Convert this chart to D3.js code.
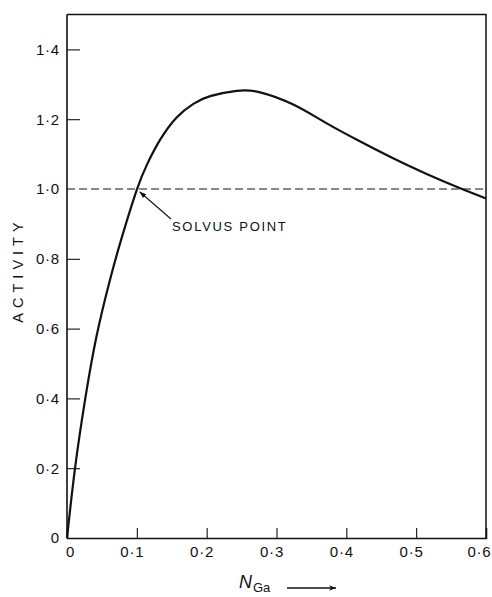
<!DOCTYPE html>
<html>
<head>
<meta charset="utf-8">
<script src="https://cdn.jsdelivr.net/npm/d3@7"></script>
<style>
  html, body { margin: 0; padding: 0; background: #fff; }
  svg { display: block; }
  text { font-family: "Liberation Sans", Arial, sans-serif; fill: #111; }
</style>
</head>
<body>
<svg id="chart" width="492" height="597"></svg>
<script>
// Data
const nGa      = [0, 0.0115, 0.0258, 0.0425, 0.0616, 0.0783, 0.0998, 0.115, 0.133, 0.157, 0.181, 0.205, 0.243, 0.2765, 0.324, 0.372, 0.42, 0.467, 0.515, 0.563, 0.6];
const activity = [0, 0.2, 0.395, 0.58, 0.74, 0.86, 0.997, 1.072, 1.14, 1.205, 1.244, 1.266, 1.281, 1.277, 1.242, 1.188, 1.136, 1.088, 1.043, 1.002, 0.973];
const xTicks = [0, 0.1, 0.2, 0.3, 0.4, 0.5, 0.6];
const xTickLabels = ["0", "0·1", "0·2", "0·3", "0·4", "0·5", "0·6"];
const yTicks = [0, 0.2, 0.4, 0.6, 0.8, 1.0, 1.2, 1.4];
const yTickLabels = ["0", "0·2", "0·4", "0·6", "0·8", "1·0", "1·2", "1·4"];
const solvusLevel = [1.0];
const solvusPoint = [0.1, 1.0];

const svg = d3.select("#chart");
const L = 67, R = 486, T = 14.5, B = 538;
const x = d3.scaleLinear().domain([0, 0.6]).range([L, R]);
const y = d3.scaleLinear().domain([0, 1.5]).range([B, T]);

// frame (top and right)
svg.append("path")
  .attr("d", `M${L},${T}H${R}V${B}`)
  .attr("fill", "none").attr("stroke", "#111").attr("stroke-width", 1.5);

// X axis (ticks inward)
const xAxis = d3.axisBottom(x).tickValues(xTicks).tickSize(-10).tickPadding(14)
  .tickFormat((d, i) => xTickLabels[i]);
const gx = svg.append("g").attr("transform", `translate(0,${B})`).call(xAxis);
gx.select(".domain").attr("stroke", "#111").attr("stroke-width", 1.6);
gx.selectAll(".tick line").attr("stroke", "#111").attr("stroke-width", 1.1);
gx.selectAll(".tick text")
  .attr("font-size", 15).attr("letter-spacing", "0.8px")
  .attr("font-family", "Liberation Sans, Arial, sans-serif")
  .attr("text-anchor", (d, i) => i === xTicks.length - 1 ? "end" : "middle")
  .attr("dx", (d, i) => i === 0 ? 3 : (i === xTicks.length - 1 ? 5 : -5))
  .attr("dy", "0.3em").attr("fill", "#111");
gx.selectAll(".tick").filter(d => d === 0 || d === 0.6).select("line").remove();

// Y axis (ticks inward)
const yAxis = d3.axisLeft(y).tickValues(yTicks).tickSize(-13).tickPadding(7)
  .tickFormat((d, i) => yTickLabels[i]);
const gy = svg.append("g").attr("transform", `translate(${L},0)`).call(yAxis);
gy.select(".domain").attr("d", `M0,${B}V${T}`).attr("stroke", "#111").attr("stroke-width", 1.6);
gy.selectAll(".tick line").attr("stroke", "#111").attr("stroke-width", 1.1);
gy.selectAll(".tick text")
  .attr("font-size", 15).attr("letter-spacing", "0.8px")
  .attr("font-family", "Liberation Sans, Arial, sans-serif").attr("fill", "#111");
gy.selectAll(".tick").filter(d => d === 0 || d === 1.0).select("line").remove();

// dashed solvus line
svg.selectAll(".solvus").data(solvusLevel).enter().append("line")
  .attr("x1", L).attr("x2", R)
  .attr("y1", d => y(d)).attr("y2", d => y(d))
  .attr("stroke", "#111").attr("stroke-width", 1)
  .attr("stroke-dasharray", "8,4");

// curve
const pts = nGa.map((v, i) => [v, activity[i]]);
const line = d3.line().x(d => x(d[0])).y(d => y(d[1])).curve(d3.curveNatural);
svg.append("path").datum(pts)
  .attr("d", line)
  .attr("fill", "none").attr("stroke", "#111").attr("stroke-width", 2.2);

// annotation arrow
const defs = svg.append("defs");
defs.append("marker").attr("id", "ah").attr("viewBox", "0 0 10 10")
  .attr("refX", 9).attr("refY", 5).attr("markerWidth", 9).attr("markerHeight", 7)
  .attr("orient", "auto").attr("markerUnits", "userSpaceOnUse")
  .append("path").attr("d", "M0,1.5L10,5L0,8.5Z").attr("fill", "#111");
const px = x(solvusPoint[0]) + 3, py = y(solvusPoint[1]) + 3;
svg.append("line")
  .attr("x1", 171).attr("y1", 219).attr("x2", px).attr("y2", py)
  .attr("stroke", "#111").attr("stroke-width", 1.1).attr("marker-end", "url(#ah)");
svg.append("text")
  .attr("x", 172).attr("y", 231)
  .attr("font-size", 13).attr("letter-spacing", "1.7px")
  .text("SOLVUS  POINT");

// y-axis title
svg.append("text")
  .attr("transform", "translate(23,270) rotate(-90)")
  .attr("text-anchor", "middle")
  .attr("font-size", 14.5).attr("letter-spacing", "5px")
  .text("ACTIVITY");

// x-axis title: N_Ga with arrow
const xt = svg.append("text").attr("x", 239).attr("y", 588);
xt.append("tspan").attr("font-style", "italic").attr("font-size", 18).text("N");
xt.append("tspan").attr("font-size", 13).attr("dy", 4).attr("dx", 1).text("Ga");
defs.append("marker").attr("id", "ah2").attr("viewBox", "0 0 10 10")
  .attr("refX", 10).attr("refY", 5).attr("markerWidth", 14).attr("markerHeight", 7)
  .attr("orient", "auto").attr("markerUnits", "userSpaceOnUse")
  .append("path").attr("d", "M0,1L10,5L0,9L3,5Z").attr("fill", "#111");
svg.append("line")
  .attr("x1", 287).attr("y1", 588).attr("x2", 336).attr("y2", 588)
  .attr("stroke", "#111").attr("stroke-width", 1.4).attr("marker-end", "url(#ah2)");
</script>
</body>
</html>
